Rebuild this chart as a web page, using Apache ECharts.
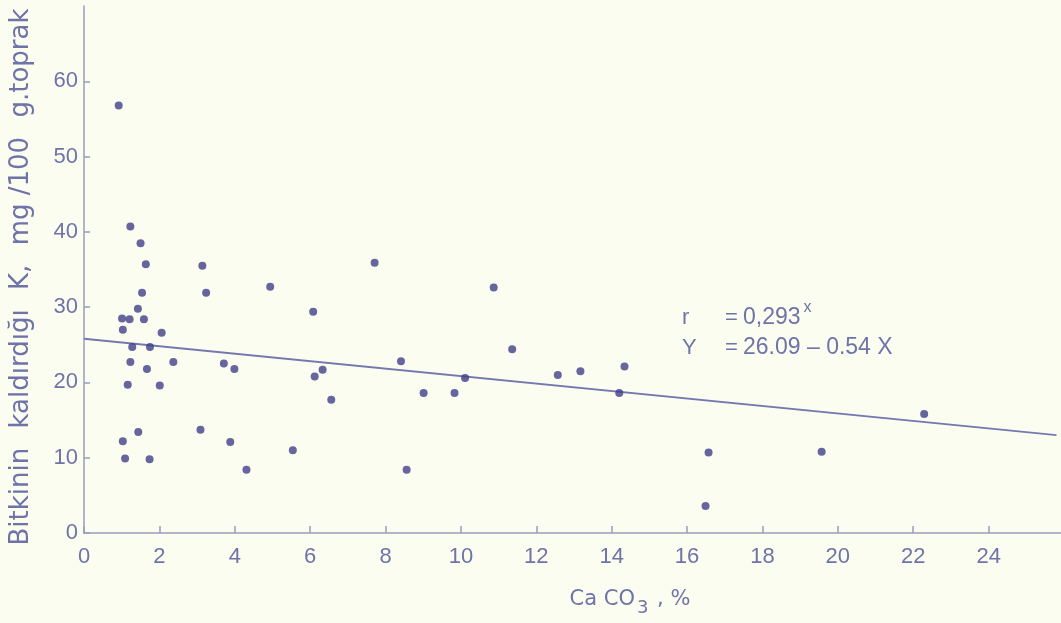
<!DOCTYPE html>
<html>
<head>
<meta charset="utf-8">
<script src="https://cdn.jsdelivr.net/npm/echarts@6/dist/echarts.min.js"></script>
<style>
html,body{margin:0;padding:0;background:#fcfdf1;}
#chart{width:1061px;height:623px;}
</style>
</head>
<body>
<div id="chart"></div>
<script>
// CaCO3 (%) values of the samples
const caco3 = [0.92,1.23,1.50,1.64,1.54,1.43,1.01,1.21,1.59,1.03,2.06,1.28,1.75,1.23,1.67,2.37,3.71,3.99,1.16,2.01,
  3.14,3.24,4.94,1.44,1.03,3.09,3.88,1.09,1.74,4.31,
  7.71,10.87,6.08,11.36,8.41,6.33,6.12,10.11,12.57,13.17,14.34,9.01,9.83,14.20,6.56,5.54,8.56,
  22.29,16.57,19.57,16.49];
// K removed by plant, mg/100 g soil
const kRemoved = [56.8,40.7,38.5,35.7,31.9,29.8,28.5,28.4,28.4,27.0,26.6,24.7,24.7,22.7,21.8,22.7,22.5,21.8,19.7,19.6,
  35.5,31.9,32.7,13.4,12.2,13.7,12.1,9.9,9.8,8.4,
  35.9,32.6,29.4,24.4,22.8,21.7,20.8,20.6,21.0,21.5,22.1,18.6,18.6,18.6,17.7,11.0,8.4,
  15.8,10.7,10.8,3.6];
// regression line end points as drawn
const fitX = [0, 25.8];
const fitY = [25.8, 13.0];
// tick labels
const xTicks = [0,2,4,6,8,10,12,14,16,18,20,22,24];
const yTicks = [0,10,20,30,40,50,60];

const txt = '#6f73a8';
const axisCol = '#9a9cba';
const numFont = "'Liberation Sans',sans-serif";
const titleFont = "'DejaVu Sans',sans-serif";

const chart = echarts.init(document.getElementById('chart'), null, {renderer:'canvas'});
chart.setOption({
  backgroundColor:'#fcfdf1',
  animation:false,
  grid:{left:84, right:0, top:6, bottom:90, containLabel:false},
  xAxis:{
    type:'value', min:0, max:25.92,
    splitLine:{show:false},
    axisLine:{show:true, lineStyle:{color:axisCol, width:1.5}},
    axisTick:{show:true, inside:true, length:7, customValues:xTicks, lineStyle:{color:axisCol, width:1.5}},
    axisLabel:{customValues:xTicks, color:txt, fontFamily:numFont, fontSize:22, margin:13}
  },
  yAxis:{
    type:'value', min:0, max:70,
    splitLine:{show:false},
    axisLine:{show:true, lineStyle:{color:axisCol, width:1.5}},
    axisTick:{show:true, inside:true, length:6, customValues:yTicks, lineStyle:{color:axisCol, width:1.5}},
    axisLabel:{customValues:yTicks, color:txt, fontFamily:numFont, fontSize:22, margin:6}
  },
  series:[
    {
      type:'line',
      data:fitX.map((x,i)=>[x,fitY[i]]),
      symbol:'none',
      lineStyle:{color:'#7478b0', width:2},
      z:2
    },
    {
      type:'scatter',
      data:caco3.map((x,i)=>[x,kRemoved[i]]),
      symbolSize:8,
      itemStyle:{color:'#403f8a'},
      z:3
    }
  ],
  graphic:[
    {
      type:'text', x:21, y:277, rotation:Math.PI/2,
      style:{
        text:'{w|Bitkinin} {w|kaldırdığı} {w|K,} {w|mg /100} {w|g.toprak}',
        align:'center', verticalAlign:'middle',
        rich:{w:{fill:txt, fontSize:26, fontFamily:titleFont, padding:[0,8]}}
      }
    },
    {
      type:'text', x:630, y:600,
      style:{
        text:'{a|Ca CO}{s|3}{a| , %}',
        align:'center', verticalAlign:'middle',
        rich:{
          a:{fill:txt, fontSize:21, fontFamily:titleFont},
          s:{fill:txt, fontSize:18, fontFamily:titleFont, padding:[16,2,0,2]}
        }
      }
    },
    {
      type:'text', x:682, y:318,
      style:{
        text:'{r|r }{e|= }{n|0,293}{p|x}',
        verticalAlign:'middle',
        rich:{
          r:{fill:txt, fontSize:22, fontFamily:numFont, width:43},
          e:{fill:txt, fontSize:22, fontFamily:numFont, width:18},
          n:{fill:txt, fontSize:23, fontFamily:numFont},
          p:{fill:txt, fontSize:16, fontFamily:numFont, padding:[0,0,20,3]}
        }
      }
    },
    {
      type:'text', x:682, y:348,
      style:{
        text:'{r|Y }{e|= }{n|26.09 – 0.54 X}',
        verticalAlign:'middle',
        rich:{
          r:{fill:txt, fontSize:22, fontFamily:numFont, width:43},
          e:{fill:txt, fontSize:22, fontFamily:numFont, width:18},
          n:{fill:txt, fontSize:23, fontFamily:numFont}
        }
      }
    }
  ]
});
</script>
</body>
</html>
